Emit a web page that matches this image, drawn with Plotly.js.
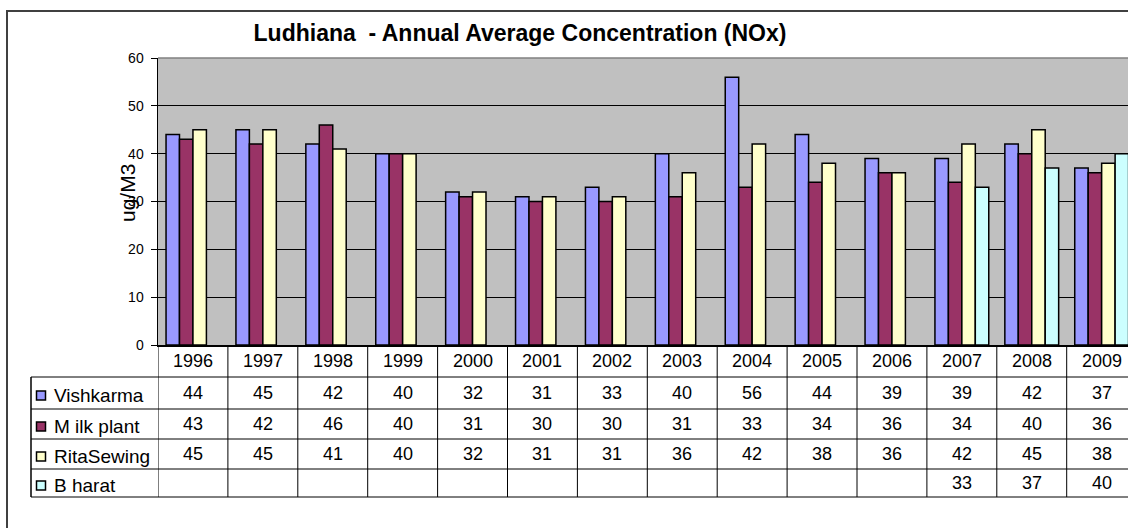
<!DOCTYPE html>
<html>
<head>
<meta charset="utf-8">
<script src="https://cdn.plot.ly/plotly-3.0.1.min.js"></script>
<style>
  html, body { margin: 0; padding: 0; background: #ffffff; }
  #chart { width: 1128px; height: 528px; }
</style>
</head>
<body>
<div id="chart"></div>
<script>
// ---- data ----
const categories = ["1996","1997","1998","1999","2000","2001","2002","2003","2004","2005","2006","2007","2008","2009"];
const seriesNames = ["Vishkarma", "M ilk plant", "RitaSewing", "B harat"];
const vishkarma  = [44,45,42,40,32,31,33,40,56,44,39,39,42,37];
const milkPlant  = [43,42,46,40,31,30,30,31,33,34,36,34,40,36];
const ritaSewing = [45,45,41,40,32,31,31,36,42,38,36,42,45,38];
const bharat     = [null,null,null,null,null,null,null,null,null,null,null,33,37,40];
const seriesValues = [vishkarma, milkPlant, ritaSewing, bharat];
const seriesColors = ["#9999FF", "#993366", "#FFFFCC", "#CCFFFF"];
const titleText = "Ludhiana  - Annual Average Concentration (NOx)";
const yTitle = "ug/M3";

// ---- geometry helpers (pixel -> paper) ----
const W = 1128, H = 528;
const mL = 158, mT = 58, mB = 183;
const plotW = W - mL;           // plot runs to the right edge (clipped like the original)
const plotH = H - mT - mB;
const px = x => (x - mL) / plotW;
const py = y => (H - mB - y) / plotH;

const font = "Arial, 'Liberation Sans', sans-serif";

const traces = seriesValues.map((vals, i) => ({
  type: "bar",
  name: seriesNames[i],
  x: categories,
  y: vals,
  marker: { color: seriesColors[i], line: { color: "#000000", width: 1.5 } },
  hoverinfo: "x+y+name"
}));

// table rows (pixel boundaries)
const rowLines = [377, 409, 439, 469, 497];
const headerCenter = 361;
const rowCenters = [393, 424, 454, 483];

const shapes = [];
const annotations = [];

// outer chart border
shapes.push({ type: "rect", xref: "paper", yref: "paper",
  x0: px(7), x1: 1.05, y0: py(560), y1: py(11),
  line: { color: "#404040", width: 2 }, fillcolor: "rgba(0,0,0,0)", layer: "below" });

// plot area top border (gray)
shapes.push({ type: "line", xref: "paper", yref: "paper", x0: 0, x1: 1.01, y0: 1, y1: 1,
  line: { color: "#808080", width: 1.5 } });

// table horizontal lines
rowLines.forEach(r => {
  shapes.push({ type: "line", xref: "paper", yref: "paper", x0: px(31), x1: 1.02, y0: py(r), y1: py(r),
    line: { color: "#000000", width: 1 } });
});
// left border of legend column
shapes.push({ type: "line", xref: "paper", yref: "paper", x0: px(31), x1: px(31),
  y0: py(rowLines[0]), y1: py(rowLines[rowLines.length - 1]), line: { color: "#000000", width: 1.5 } });
// vertical separators at category boundaries
for (let k = 0; k <= categories.length; k++) {
  shapes.push({ type: "line", xref: "x", yref: "paper", x0: k - 0.5, x1: k - 0.5,
    y0: 0, y1: py(rowLines[rowLines.length - 1]), line: { color: "#000000", width: 1 } });
}

// header years (x given as category index on the category axis)
categories.forEach((c, j) => {
  annotations.push({ x: j, xref: "x", y: py(headerCenter), yref: "paper", text: c, showarrow: false,
    xanchor: "center", yanchor: "middle", font: { family: font, size: 18, color: "#000000" } });
});

// rows: legend keys, names and values
seriesValues.forEach((vals, i) => {
  const cy = rowCenters[i] + 2;
  shapes.push({ type: "rect", xref: "paper", yref: "paper",
    x0: px(36.5), x1: px(45.5), y0: py(cy + 5), y1: py(cy - 4),
    fillcolor: seriesColors[i], line: { color: "#000000", width: 1.5 } });
  annotations.push({ x: px(52), xref: "paper", y: py(cy), yref: "paper", text: seriesNames[i],
    showarrow: false, xanchor: "left", yanchor: "middle",
    font: { family: font, size: 19, color: "#000000" } });
  vals.forEach((v, j) => {
    if (v === null) return;
    annotations.push({ x: j, xref: "x", y: py(rowCenters[i]), yref: "paper", text: String(v),
      showarrow: false, xanchor: "center", yanchor: "middle",
      font: { family: font, size: 18, color: "#000000" } });
  });
});

// y axis title
annotations.push({ x: px(127), xref: "paper", y: py(193), yref: "paper", text: yTitle, textangle: -90,
  showarrow: false, xanchor: "center", yanchor: "middle",
  font: { family: font, size: 21, color: "#000000" } });

const layout = {
  width: W, height: H,
  margin: { l: mL, r: 0, t: mT, b: mB, pad: 0 },
  paper_bgcolor: "#ffffff",
  plot_bgcolor: "#C0C0C0",
  showlegend: false,
  barmode: "group",
  bargap: 0.23,
  bargroupgap: 0,
  font: { family: font, color: "#000000" },
  title: { text: "<b>" + titleText + "</b>", xref: "paper", x: px(520), xanchor: "center",
    yref: "container", y: 1 - 33 / H, yanchor: "middle",
    font: { family: font, size: 23, color: "#000000" } },
  xaxis: {
    type: "category",
    range: [-0.5, -0.5 + plotW / 69.9],
    showticklabels: false,
    ticks: "",
    showgrid: false,
    showline: true, linecolor: "#000000", linewidth: 1.5,
    fixedrange: true
  },
  yaxis: {
    range: [0, 60],
    dtick: 10,
    tick0: 0,
    ticks: "outside", ticklen: 6, tickcolor: "#000000", tickwidth: 1,
    ticklabelstandoff: 4,
    tickfont: { family: font, size: 14, color: "#000000" },
    showgrid: true, gridcolor: "#000000", gridwidth: 1,
    zeroline: false,
    showline: true, linecolor: "#000000", linewidth: 1.5,
    fixedrange: true
  },
  shapes: shapes,
  annotations: annotations
};

Plotly.newPlot("chart", traces, layout, { displayModeBar: false, staticPlot: true });
</script>
</body>
</html>
